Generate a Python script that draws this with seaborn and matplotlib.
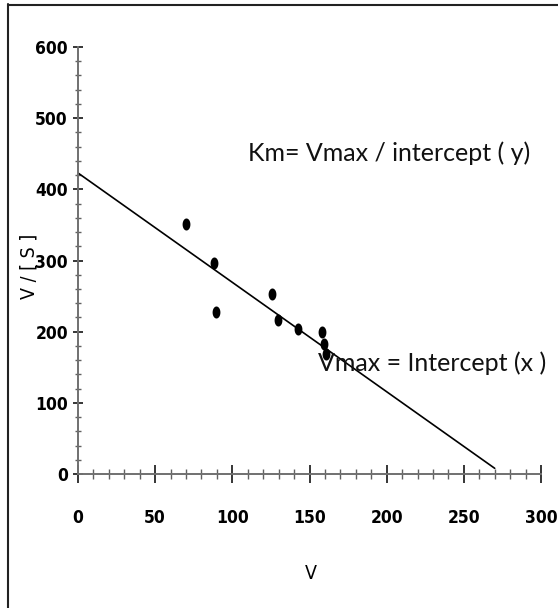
import numpy as np
import pandas as pd
import matplotlib
matplotlib.use("Agg")
import matplotlib.pyplot as plt
import seaborn as sns
from matplotlib.path import Path
from matplotlib.lines import Line2D
from matplotlib.ticker import MultipleLocator

# ---- data ----
v_values = [69.8, 87.8, 89.5, 126.0, 129.5, 142.5, 157.8, 159.5, 160.6]
v_over_s = [351, 297, 227, 253, 216, 204, 200, 183, 168]
line_x = [0, 270]
line_y = [423, 8]
x_ticks = [0, 50, 100, 150, 200, 250, 300]
y_ticks = [0, 100, 200, 300, 400, 500, 600]
km_text = "Km= Vmax / intercept ( y)"
vmax_text = "Vmax = Intercept (x )"

sns.set_theme(style="white")
plt.rcParams['font.family'] = ['DejaVu Sans']

W, H = 558, 608
fig = plt.figure(figsize=(W / 100, H / 100), dpi=100)
ax = fig.add_axes([78 / W, 1 - 474 / H, (541 - 78) / W, (474 - 47) / H])

pts = pd.DataFrame({"v": v_values, "vs": v_over_s})
ln = pd.DataFrame({"x": line_x, "y": line_y})

# elliptical dot marker
t = np.linspace(0, 2 * np.pi, 40)
ell = Path(np.column_stack([0.65 * np.cos(t), np.sin(t)]), closed=True)

sns.lineplot(data=ln, x="x", y="y", ax=ax, color="black", lw=1.2, zorder=2)
sns.scatterplot(data=pts, x="v", y="vs", ax=ax, marker=ell, s=75,
                color="black", edgecolor="black", linewidth=0, zorder=3,
                clip_on=False)

ax.set_xlim(0, 300)
ax.set_ylim(0, 600)
ax.set_xticks(x_ticks)
ax.set_yticks(y_ticks)
ax.xaxis.set_minor_locator(MultipleLocator(10))
ax.yaxis.set_minor_locator(MultipleLocator(20))

for s in ["top", "right"]:
    ax.spines[s].set_visible(False)
for s in ["left", "bottom"]:
    ax.spines[s].set_color("#707070")
    ax.spines[s].set_linewidth(1.4)

ax.tick_params(which='both', bottom=True, left=True, top=False, right=False)
ax.tick_params(axis='x', which='major', direction='inout', length=13, width=1.1,
               color='black', pad=19)
ax.tick_params(axis='x', which='minor', direction='inout', length=7, width=1.0,
               color='#606060')
ax.tick_params(axis='y', which='major', direction='inout', length=7.5, width=1.1,
               color='black', pad=3.5)
ax.tick_params(axis='y', which='minor', direction='inout', length=5, width=1.0,
               color='#606060')

tickfont = dict(family='DejaVu Sans', stretch='condensed', weight='bold', size=12.5)
ax.set_xticklabels([str(v) for v in x_ticks], fontdict=tickfont)
ax.set_yticklabels([str(v) for v in y_ticks], fontdict=tickfont)
ax.tick_params(labelcolor='black')

labfont = dict(family='DejaVu Sans', stretch='condensed', size=14, color='black')
ax.set_xlabel("V", **labfont)
ax.set_ylabel("V / [ S ]", **labfont)
ax.xaxis.set_label_coords(0.503, -0.211)
ax.yaxis.set_label_coords(-0.086, 0.487)

ax.text(110, 451, km_text, ha='left', va='center', fontsize=18,
        family=['Lato', 'DejaVu Sans'], color='#111111')
ax.text(155.5, 156, vmax_text, ha='left', va='center', fontsize=18,
        family=['Lato', 'DejaVu Sans'], color='#111111', zorder=4)

# outer frame (left and top only)
fig.add_artist(Line2D([7.5 / W, 7.5 / W], [0, 1 - 4 / H], color='#222222', lw=1.5))
fig.add_artist(Line2D([7.5 / W, 1], [1 - 4.5 / H, 1 - 4.5 / H], color='#222222', lw=1.5))

fig.savefig("out.png", dpi=100)
